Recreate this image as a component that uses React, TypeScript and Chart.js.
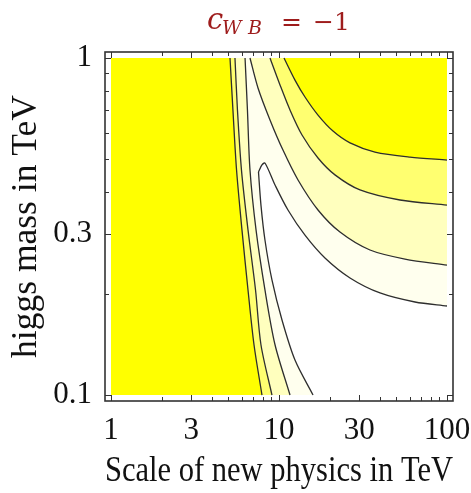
import React, { useEffect, useRef } from "react";
import { Chart, registerables } from "chart.js";

Chart.register(...registerables);

// ---- data (TeV) ----
const xTickValues = [1, 3, 10, 30, 100];
const yTickValues = [0.1, 0.3, 1];
const xFrameTicks = [1, 2, 3, 4, 5, 6, 7, 8, 9, 10, 20, 30, 40, 50, 60, 70, 80, 90, 100];
const yFrameTicks = [0.1, 0.2, 0.3, 0.4, 0.5, 0.6, 0.7, 0.8, 0.9, 1];
const plotDomainX = [1, 100];
const plotDomainY = [0.1, 1];

// contour levels, left branches (scale, higgs mass)
const level1Left: number[][] = [[5.11, 1], [5.32, 0.70], [5.59, 0.465], [6.02, 0.309], [6.54, 0.205], [7.10, 0.141], [7.92, 0.1]];
const level2Left: number[][] = [[5.47, 1], [5.66, 0.70], [5.98, 0.465], [6.54, 0.309], [7.25, 0.205], [7.81, 0.141], [9.08, 0.1]];
const level3Left: number[][] = [[6.28, 1], [6.49, 0.70], [6.72, 0.465], [7.30, 0.309], [8.25, 0.205], [9.47, 0.141], [11.63, 0.1]];
const level4Left: number[][] = [[15.94, 0.1], [12.45, 0.127], [10.42, 0.167], [9.08, 0.2195], [8.25, 0.2884], [7.81, 0.366], [7.55, 0.459]];
// right branches
const level4Right: number[][] = [[7.55, 0.459], [7.92, 0.4815], [8.25, 0.488], [9.47, 0.42], [11.31, 0.354], [14.28, 0.298], [18.78, 0.255], [26.47, 0.2225], [39.93, 0.2008], [64.5, 0.1888], [100, 0.1837]];
const level3Right: number[][] = [[6.72, 1], [7.50, 0.815], [8.84, 0.655], [10.56, 0.533], [12.98, 0.4345], [17.07, 0.354], [23.07, 0.3045], [34.8, 0.2693], [56.2, 0.2532], [100, 0.243]];
const level2Right: number[][] = [[8.84, 1], [10.14, 0.832], [11.63, 0.701], [13.71, 0.591], [17.07, 0.505], [21.54, 0.45], [30.35, 0.406], [52.5, 0.379], [100, 0.366]];
const level1Right: number[][] = [[10.71, 1], [12.45, 0.86], [14.28, 0.766], [17.07, 0.677], [20.96, 0.607], [26.47, 0.56], [37.27, 0.526], [60.23, 0.508], [100, 0.498]];

// ---- styles ----
const FONT = "'Liberation Serif', 'Times New Roman', serif";
const TITLE_FONT = "'DejaVu Serif', serif";
const LINE = "#2e2e2e";
const C_YELLOW = "#ffff00";
const C_BAND1 = "#ffff70";
const C_BAND2 = "#ffffbe";
const C_BAND3 = "#ffffee";
const C_WHITE = "#ffffff";

const toPts = (arr: number[][]) => arr.map(([x, y]) => ({ x, y }));

function region(data: number[][], color: string, indexAxis: "x" | "y", fillTo: number, stroke = true) {
  return {
    data: toPts(data),
    indexAxis,
    fill: { value: fillTo },
    backgroundColor: color,
    borderColor: stroke ? LINE : "rgba(0,0,0,0)",
    borderWidth: stroke ? 1.3 : 0,
    pointRadius: 0,
    tension: 0.3,
  };
}

const framePlugin = {
  id: "frameTicks",
  afterDatasetsDraw(chart: any) {
    const { ctx, chartArea: a, scales } = chart;
    ctx.save();
    ctx.strokeStyle = "#333";
    ctx.lineWidth = 1;
    ctx.beginPath();
    for (const v of xFrameTicks) {
      const px = Math.round(scales.x.getPixelForValue(v)) + 0.5;
      const len = xTickValues.includes(v) ? 6 : 4;
      ctx.moveTo(px, a.bottom);
      ctx.lineTo(px, a.bottom - len);
      ctx.moveTo(px, a.top);
      ctx.lineTo(px, a.top + len);
    }
    for (const v of yFrameTicks) {
      const py = Math.round(scales.y.getPixelForValue(v)) + 0.5;
      const len = yTickValues.includes(v) ? 6 : 4;
      ctx.moveTo(a.left, py);
      ctx.lineTo(a.left + len, py);
      ctx.moveTo(a.right, py);
      ctx.lineTo(a.right - len, py);
    }
    ctx.stroke();
    ctx.lineWidth = 1.6;
    ctx.strokeRect(a.left, a.top, a.right - a.left, a.bottom - a.top);
    ctx.restore();
  },
};

const titlePlugin = {
  id: "cwbTitle",
  afterDraw(chart: any) {
    const { ctx } = chart;
    ctx.save();
    ctx.fillStyle = "#9e1c1c";
    ctx.textBaseline = "alphabetic";
    ctx.textAlign = "left";
    ctx.font = `italic 29px ${TITLE_FONT}`;
    ctx.fillText("c", 207, 29);
    ctx.font = `italic 19px ${TITLE_FONT}`;
    ctx.fillText("W", 222, 34);
    ctx.fillText("B", 248, 34);
    ctx.font = `25px ${TITLE_FONT}`;
    ctx.fillText("=", 281, 30);
    ctx.fillText("\u22121", 313, 30);
    ctx.restore();
  },
};

export default function App() {
  const ref = useRef<HTMLCanvasElement | null>(null);

  useEffect(() => {
    if (!ref.current) return;
    const domainBase = [[plotDomainX[0], plotDomainY[0]], [plotDomainX[1], plotDomainY[0]]];
    const datasets: any[] = [
      region(level1Right, C_YELLOW, "x", plotDomainY[1]),
      region(level1Left, C_YELLOW, "y", plotDomainX[0]),
      region(level2Right, C_BAND1, "x", plotDomainY[1]),
      region(level2Left, C_BAND1, "y", plotDomainX[0]),
      region(level3Right, C_BAND2, "x", plotDomainY[1]),
      region(level3Left, C_BAND2, "y", plotDomainX[0]),
      region(level4Left, C_BAND3, "y", plotDomainX[0]),
      region(level4Right, C_WHITE, "x", plotDomainY[0]),
      region(domainBase, C_BAND3, "x", plotDomainY[1], false),
    ];
    const chart = new Chart(ref.current, {
      type: "line",
      data: { datasets },
      options: {
        animation: false,
        responsive: false,
        maintainAspectRatio: false,
        devicePixelRatio: 1,
        layout: { padding: { top: 52, right: 18, bottom: 0, left: 0 } },
        plugins: { legend: { display: false }, tooltip: { enabled: false }, title: { display: false } },
        scales: {
          x: {
            type: "logarithmic",
            min: 0.921,
            max: 108.6,
            grid: { display: false, drawTicks: false },
            border: { display: false },
            ticks: {
              autoSkip: false,
              maxRotation: 0,
              padding: 11,
              color: "#111",
              font: { family: FONT, size: 31 },
              callback: (v: any) => String(v),
            },
            afterBuildTicks: (s: any) => {
              s.ticks = xTickValues.map((v) => ({ value: v }));
            },
            afterFit: (s: any) => {
              s.height = 92;
              s.paddingLeft = 0;
              s.paddingRight = 0;
            },
            title: {
              display: true,
              text: "Scale of new physics in TeV",
              color: "#111",
              font: { family: FONT, size: 35.5 },
              padding: { top: 0, bottom: 0 },
            },
          },
          y: {
            type: "logarithmic",
            min: 0.096,
            max: 1.0418,
            grid: { display: false, drawTicks: false },
            border: { display: false },
            ticks: {
              autoSkip: false,
              padding: 13,
              color: "#111",
              font: { family: FONT, size: 31 },
              callback: (v: any) => String(v),
            },
            afterBuildTicks: (s: any) => {
              s.ticks = yTickValues.map((v) => ({ value: v }));
            },
            afterFit: (s: any) => {
              s.width = 105;
              s.paddingTop = 0;
              s.paddingBottom = 0;
            },
            title: {
              display: true,
              text: "higgs mass in TeV",
              color: "#111",
              font: { family: FONT, size: 35.5 },
              padding: { top: 5, bottom: 0 },
            },
          },
        },
      },
      plugins: [framePlugin, titlePlugin],
    } as any);
    return () => chart.destroy();
  }, []);

  return (
    <div style={{ position: "fixed", left: 0, top: 0, width: 471, height: 493, background: "#fff" }}>
      <canvas ref={ref} width={471} height={493} style={{ display: "block", width: 471, height: 493 }} />
    </div>
  );
}
